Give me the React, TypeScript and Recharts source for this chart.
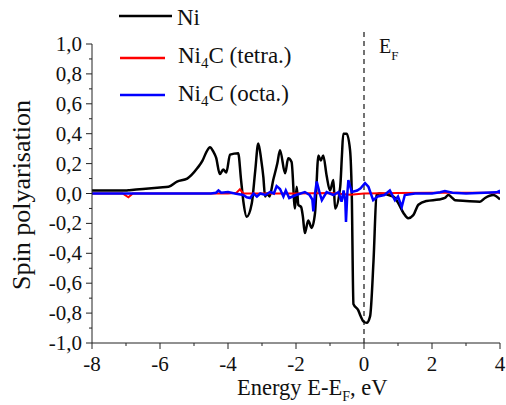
import React from "react";
import { LineChart, Line, XAxis, YAxis, ReferenceLine } from "recharts";

// Ni
const niX = [-8, -7.5, -7, -6.9, -6.5, -6, -5.75, -5.5, -5.2, -4.9, -4.75, -4.63, -4.53, -4.43, -4.35, -4.24, -4.14, -4.05, -3.94, -3.7, -3.62, -3.55, -3.45, -3.3, -3.2, -3.11, -3.02, -2.96, -2.91, -2.85, -2.78, -2.67, -2.55, -2.47, -2.32, -2.23, -2.13, -2.03, -1.98, -1.93, -1.85, -1.8, -1.74, -1.64, -1.54, -1.44, -1.34, -1.27, -1.2, -1.1, -1, -0.9, -0.85, -0.7, -0.65, -0.61, -0.51, -0.41, -0.36, -0.31, -0.17, -0.1, -0.02, 0.08, 0.18, 0.28, 0.37, 0.45, 0.86, 1.01, 1.16, 1.3, 1.45, 1.6, 1.84, 2.2, 2.38, 2.48, 2.6, 2.68, 3, 3.41, 3.56, 3.8, 4];
const niY = [0.02, 0.02, 0.02, 0.022, 0.03, 0.04, 0.045, 0.08, 0.1, 0.17, 0.22, 0.28, 0.31, 0.28, 0.24, 0.13, 0.16, 0.14, 0.26, 0.27, 0.1, -0.05, -0.155, -0.065, 0.15, 0.335, 0.22, 0.11, -0.02, 0, -0.02, 0.09, 0.2, 0.29, 0.135, 0.235, 0.21, -0.1, 0.045, -0.077, -0.09, -0.15, -0.265, -0.18, -0.23, -0.13, 0.255, 0.22, 0.255, 0.12, 0.02, 0.09, -0.1, 0.045, 0.25, 0.4, 0.4, 0.29, 0, -0.74, -0.78, -0.82, -0.855, -0.865, -0.82, -0.45, -0.01, 0, -0.02, -0.065, -0.13, -0.165, -0.145, -0.075, -0.05, -0.04, -0.03, -0.01, -0.03, -0.045, -0.05, -0.055, -0.03, -0.01, -0.04];

// Ni4C (tetra.)
const tetraX = [-8, -7.1, -6.93, -6.8, -4, -3.75, -3.65, -3.55, -2, -1, -0.4, 0, 1, 2, 3, 4];
const tetraY = [0, 0, -0.025, 0, 0, 0.005, 0.028, 0, 0, 0.003, -0.008, 0, 0.004, 0.005, 0.005, 0.005];

// Ni4C (octa.)
const octaX = [-8, -6, -4.5, -4.35, -4.28, -4.2, -4, -3.8, -3.55, -3.45, -3.35, -3.25, -3.15, -3.05, -2.9, -2.76, -2.65, -2.57, -2.47, -2.37, -2.3, -2.2, -2, -1.74, -1.6, -1.52, -1.49, -1.44, -1.39, -1.3, -1.24, -1.1, -0.9, -0.75, -0.66, -0.6, -0.55, -0.53, -0.49, -0.46, -0.36, -0.2, -0.1, 0.03, 0.13, 0.2, 0.27, 0.4, 0.6, 0.76, 0.91, 1, 1.11, 1.2, 1.5, 2, 2.24, 2.38, 2.6, 3, 3.9, 3.97, 4];
const octaY = [0, 0, 0, 0.005, 0.02, 0.005, 0.01, 0, -0.01, -0.025, -0.03, 0, -0.02, 0, -0.01, 0.01, 0, 0.05, 0.03, -0.02, 0.02, -0.03, -0.01, 0.01, -0.01, -0.04, -0.12, 0, 0.08, 0, -0.045, 0.01, -0.01, 0.01, -0.055, 0.02, -0.05, -0.19, 0, 0.09, 0.01, 0.02, 0.035, 0.07, 0.045, 0, -0.045, -0.02, -0.01, 0.02, -0.045, -0.02, -0.09, -0.01, 0, 0, 0.008, 0.017, 0.005, 0, 0.008, 0.015, 0];

const xTicks = [-8, -7, -6, -5, -4, -3, -2, -1, 0, 1, 2, 3, 4];
const yTicks = [-1, -0.9, -0.8, -0.7, -0.6, -0.5, -0.4, -0.3, -0.2, -0.1, 0, 0.1, 0.2, 0.3, 0.4, 0.5, 0.6, 0.7, 0.8, 0.9, 1];

const zip = (xs: number[], ys: number[]) => xs.map((x, i) => ({ x, y: ys[i] }));
const niData = zip(niX, niY);
const tetraData = zip(tetraX, tetraY);
const octaData = zip(octaX, octaY);

const FONT = "Liberation Serif, Times New Roman, DejaVu Serif, serif";
const AXIS = "#222";
const txt = { fontFamily: FONT };

const XTick = (props: any) => {
  const { x, y, payload } = props;
  const major = payload.value % 2 === 0;
  return (
    <g>
      <line x1={x} x2={x} y1={y} y2={y + (major ? 6 : 3)} stroke={AXIS} strokeWidth={1} />
      {major && (
        <text x={x} y={y + 21} textAnchor="middle" dominantBaseline="central"
          style={txt} fontSize={21} fill="#111">
          {payload.value}
        </text>
      )}
    </g>
  );
};

const YTick = (props: any) => {
  const { x, y, payload } = props;
  const v = payload.value as number;
  const major = Math.abs(v * 5 - Math.round(v * 5)) < 1e-6;
  return (
    <g>
      <line x1={x - (major ? 6 : 3)} x2={x} y1={y} y2={y} stroke={AXIS} strokeWidth={1} />
      {major && (
        <text x={x - 10} y={y} textAnchor="end" dominantBaseline="central"
          style={txt} fontSize={21} fill="#111">
          {v.toFixed(1).replace(".", ",")}
        </text>
      )}
    </g>
  );
};

export default function App() {
  return (
    <div style={{ position: "absolute", left: 0, top: 0, width: 506, height: 405, background: "#fff", fontFamily: FONT }}>
      <LineChart width={506} height={405} margin={{ top: 44, right: 6, bottom: 0, left: 32 }}>
        <XAxis
          type="number"
          dataKey="x"
          domain={[-8, 4]}
          ticks={xTicks}
          interval={0}
          tickSize={0}
          tickMargin={0}
          tick={<XTick />}
          axisLine={{ stroke: AXIS, strokeWidth: 1 }}
          height={62}
          allowDataOverflow
        />
        <YAxis
          type="number"
          domain={[-1, 1]}
          ticks={yTicks}
          interval={0}
          tickSize={0}
          tickMargin={0}
          tick={<YTick />}
          axisLine={{ stroke: AXIS, strokeWidth: 1 }}
          width={60}
          allowDataOverflow
        />
        <ReferenceLine
          segment={[{ x: 0, y: -1 }, { x: 0, y: 1.1 }]}
          ifOverflow="visible"
          stroke="#444"
          strokeWidth={1.5}
          strokeDasharray="5 4"
        />
        <Line data={niData} dataKey="y" type="monotoneX" stroke="#000" strokeWidth={2.5} dot={false} isAnimationActive={false} />
        <Line data={tetraData} dataKey="y" type="linear" stroke="#ff0000" strokeWidth={2} dot={false} isAnimationActive={false} />
        <Line data={octaData} dataKey="y" type="linear" stroke="#0000ff" strokeWidth={2.5} dot={false} isAnimationActive={false} />
      </LineChart>
      <svg width={506} height={405} style={{ position: "absolute", left: 0, top: 0, pointerEvents: "none", fontFamily: FONT }}
        fill="#111">
        {/* legend */}
        <line x1={119} x2={172} y1={16} y2={16} stroke="#000" strokeWidth={2.5} />
        <text x={177} y={25} fontSize={23} style={txt}>Ni</text>
        <line x1={120} x2={165} y1={58} y2={58} stroke="#ff0000" strokeWidth={2.5} />
        <text x={178} y={63} fontSize={23} style={txt}>
          Ni<tspan fontSize={15} dy={5}>4</tspan><tspan dy={-5}>C (tetra.)</tspan>
        </text>
        <line x1={120} x2={165} y1={95} y2={95} stroke="#0000ff" strokeWidth={2.5} />
        <text x={178} y={101} fontSize={23} style={txt}>
          Ni<tspan fontSize={15} dy={5}>4</tspan><tspan dy={-5}>C (octa.)</tspan>
        </text>
        {/* E_F */}
        <text x={379} y={53} fontSize={20} style={txt}>
          E<tspan fontSize={13} dy={7}>F</tspan>
        </text>
        {/* axis labels */}
        <text x={237} y={395} fontSize={22.5} style={txt}>
          Energy E-E<tspan fontSize={14} dy={6}>F</tspan><tspan dy={-6}>, eV</tspan>
        </text>
        <text transform="translate(30,195) rotate(-90)" textAnchor="middle" fontSize={26} style={txt}>
          Spin polyarisation
        </text>
      </svg>
    </div>
  );
}
